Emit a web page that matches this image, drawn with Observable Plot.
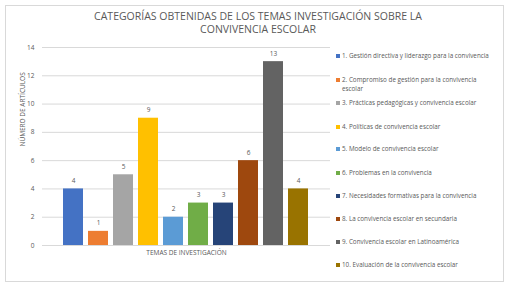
<!DOCTYPE html>
<html>
<head>
<meta charset="utf-8">
<script src="https://cdn.jsdelivr.net/npm/d3@7"></script>
<script src="https://cdn.jsdelivr.net/npm/@observablehq/plot@0.6"></script>
<style>
  html, body { margin: 0; padding: 0; background: #fff; }
  #wrap { position: relative; width: 516px; height: 288px; overflow: hidden; font-family: "Open Sans", sans-serif; }
  #frame { position: absolute; left: 5px; top: 5px; width: 499px; height: 277px; border: 1px solid #d9d9d9; box-sizing: border-box; }
  #title { position: absolute; left: 0; top: 10px; width: 516px; text-align: center; color: #595959; font-size: 10.5px; line-height: 13px; }
  #legend { position: absolute; left: 336px; top: 0; width: 178px; }
  .item { position: absolute; left: 0; font-size: 6.3px; color: #595959; line-height: 8.5px; display: flex; align-items: flex-start; }
  .sw { width: 4px; height: 4px; margin-top: 2.2px; margin-right: 2px; flex: none; }
  #chart { position: absolute; left: 0; top: 0; }
</style>
</head>
<body>
<div id="wrap">
  <div id="frame"></div>
  <div id="chart"></div>
  <div id="title">CATEGORÍAS OBTENIDAS DE LOS TEMAS INVESTIGACIÓN SOBRE LA<br>CONVIVENCIA ESCOLAR</div>
  <div id="legend"></div>
</div>
<script>
const categories = [
  "1. Gestión directiva y liderazgo para la convivencia",
  "2. Compromiso de gestión para la convivencia\nescolar",
  "3. Prácticas pedagógicas y convivencia escolar",
  "4. Políticas de convivencia escolar",
  "5. Modelo de convivencia escolar",
  "6. Problemas en la convivencia",
  "7. Necesidades formativas para la convivencia",
  "8. La convivencia escolar en secundaria",
  "9. Convivencia escolar en Latinoamérica",
  "10. Evaluación de la convivencia escolar"
];
const values = [4, 1, 5, 9, 2, 3, 3, 6, 13, 4];
const colors = ["#4472C4", "#ED7D31", "#A5A5A5", "#FFC000", "#5B9BD5", "#70AD47", "#264478", "#9E480E", "#636363", "#997300"];
const yTicks = [0, 2, 4, 6, 8, 10, 12, 14];
const xLabel = "TEMAS DE INVESTIGACIÓN";
const yLabel = "NÚMERO DE ARTÍCULOS";

const data = categories.map((c, i) => ({cat: c, value: values[i], color: colors[i]}));

const chart = Plot.plot({
  width: 516,
  height: 288,
  marginLeft: 42,
  marginRight: 186,
  marginTop: 47,
  marginBottom: 43,
  style: {fontFamily: "'Open Sans', sans-serif", fontSize: "7px", color: "#595959", background: "transparent"},
  x: {domain: categories, paddingInner: 0.2, paddingOuter: 0.83, axis: null},
  y: {domain: [0, 14], ticks: yTicks, axis: null},
  marks: [
    Plot.gridY(yTicks, {stroke: "#d9d9d9", strokeOpacity: 1, strokeWidth: 1}),
    Plot.axisY(yTicks, {tickSize: 0, tickPadding: 8, label: null, fill: "#595959", fontSize: 6.5}),
    Plot.barY(data, {x: "cat", y: "value", fill: "color"}),
    Plot.text(data, {x: "cat", y: "value", text: d => String(d.value), dy: -8, fill: "#595959", fontSize: 6.5}),
    Plot.text([xLabel], {frameAnchor: "bottom", dy: 9, fill: "#595959", fontSize: 6.5}),
    Plot.text([yLabel], {frameAnchor: "left", dx: -20, rotate: -90, fill: "#595959", fontSize: 6.5})
  ]
});
document.getElementById("chart").appendChild(chart);

const tops = [52, 76, 99, 123, 145, 169, 192, 215, 238, 261];
const legend = document.getElementById("legend");
categories.forEach((c, i) => {
  const it = document.createElement("div");
  it.className = "item";
  it.style.top = tops[i] + "px";
  const sw = document.createElement("span");
  sw.className = "sw";
  sw.style.background = colors[i];
  const tx = document.createElement("span");
  tx.style.whiteSpace = "pre";
  tx.textContent = c;
  it.appendChild(sw);
  it.appendChild(tx);
  legend.appendChild(it);
});
</script>
</body>
</html>
